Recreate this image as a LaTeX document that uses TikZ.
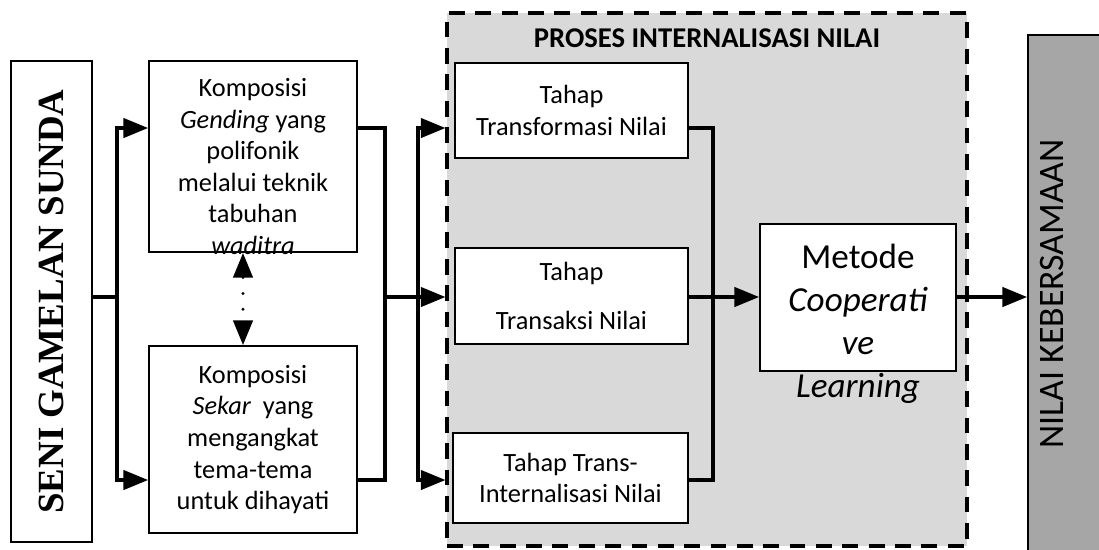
\documentclass[tikz,border=0pt]{standalone}
\usepackage{fontspec}
\setmainfont{Carlito}
\newfontfamily\timesfont{Liberation Serif}
\usepackage{xcolor}
\usetikzlibrary{arrows.meta}

\definecolor{prosesgray}{HTML}{D9D9D9}
\definecolor{nilaigray}{HTML}{A6A6A6}

\begin{document}
\begin{tikzpicture}[x=0.02cm, y=-0.02cm,
  kotak/.style={draw, line width=1.1pt, fill=white, inner sep=0pt, align=center, font=\fontsize{15}{18}\selectfont},
  isi/.style={inner sep=0pt, align=center, font=\fontsize{15}{18}\selectfont},
  conn/.style={line width=1.8pt},
  arr/.style={conn, -{Triangle[length=14pt, width=11pt]}}]

\useasboundingbox (0,0) rectangle (1099,549);

% Proses internalisasi (background)
\node[draw, fill=prosesgray, line width=1.8pt, dash pattern=on 9pt off 6pt, minimum width=10.4cm, minimum height=10.66cm] (proses) at (707,279.5) {};
\node[font=\bfseries\fontsize{16.3}{19}\selectfont] (judul) at (707,38) {PROSES INTERNALISASI NILAI};

% Left column
\node[kotak, minimum width=1.62cm, minimum height=9.62cm, font=\timesfont\bfseries\fontsize{21}{25}\selectfont] (seni) at (51.5,301.5) {\rotatebox{90}{SENI GAMELAN SUNDA}};

% Komposisi
\node[kotak, minimum width=4.16cm, minimum height=3.82cm] (gending) at (253,156.5) {};
\node[isi] (gendingisi) at (253,166.5) {Komposisi\\\textit{Gending} yang\\polifonik\\melalui teknik\\tabuhan\\\textit{waditra}};
\node[kotak, minimum width=4.16cm, minimum height=3.74cm] (sekar) at (253,439.5) {Komposisi\\\textit{Sekar}~ yang\\mengangkat\\tema-tema\\untuk dihayati};

% Tahap
\node[kotak, minimum width=4.66cm, minimum height=1.9cm] (transformasi) at (571.5,110.5) {Tahap\\Transformasi Nilai};
\node[kotak, minimum width=4.66cm, minimum height=1.92cm] (transaksi) at (571.5,296) {Tahap\\[10pt]Transaksi Nilai};
\node[kotak, minimum width=4.7cm, minimum height=1.8cm] (transint) at (570.5,478) {Tahap Trans-\\Internalisasi Nilai};

% Metode
\node[kotak, minimum width=3.92cm, minimum height=2.94cm] (metode) at (858,297.5) {};
\node[isi, font=\fontsize{20}{24.4}\selectfont] (metodeisi) at (858,324) {Metode\\\textit{Cooperati}\\\textit{ve}\\\textit{Learning}};

% Nilai kebersamaan
\node[kotak, fill=nilaigray, minimum width=1.64cm, minimum height=10.5cm] (nilai) at (1069,297.5) {};
\node[rotate=90, font=\fontsize{20.4}{24}\selectfont] (nilaiisi) at (1052,294) {NILAI KEBERSAMAAN};

% Connectors
\coordinate (kiri) at (117,297);
\coordinate (kiriatas) at (117,128);
\coordinate (kiribawah) at (117,480);
\draw[conn] (seni.east |- kiri) -- (kiri);
\draw[arr] (kiri) -- (kiriatas) -- (kiriatas -| gending.west);
\draw[arr] (kiri) -- (kiribawah) -- (kiribawah -| sekar.west);

\coordinate (kanan) at (385,297);
\coordinate (kananatas) at (385,128);
\coordinate (kananbawah) at (385,480);
\draw[conn] (gending.east |- kananatas) -- (kananatas) -- (kananbawah) -- (sekar.east |- kananbawah);

\coordinate (cabang) at (418,297);
\coordinate (cabangatas) at (418,128);
\coordinate (cabangbawah) at (418,480);
\draw[conn] (kanan) -- (cabang);
\draw[arr] (cabang) -- (cabangatas) -- (cabangatas -| proses.west);
\draw[arr] (cabang) -- (cabangbawah) -- (cabangbawah -| proses.west);
\draw[arr] (cabang) -- (proses.west |- cabang);

\draw[conn, line cap=round, dash pattern=on 0pt off 9pt, dash phase=-9.5pt, {Triangle[length=14pt, width=11pt]}-{Triangle[length=14pt, width=11pt]}] ([xshift=-0.2cm]gending.south) -- ([xshift=-0.2cm]sekar.north);

\coordinate (gabung) at (713,297);
\coordinate (gabungatas) at (713,128);
\coordinate (gabungbawah) at (713,480);
\draw[conn] (transformasi.east |- gabungatas) -- (gabungatas) -- (gabungbawah) -- (transint.east |- gabungbawah);
\draw[arr] (transaksi.east |- gabung) -- (metode.west |- gabung);
\draw[arr] (metode.east |- gabung) -- (nilai.west |- gabung);

\end{tikzpicture}
\end{document}
